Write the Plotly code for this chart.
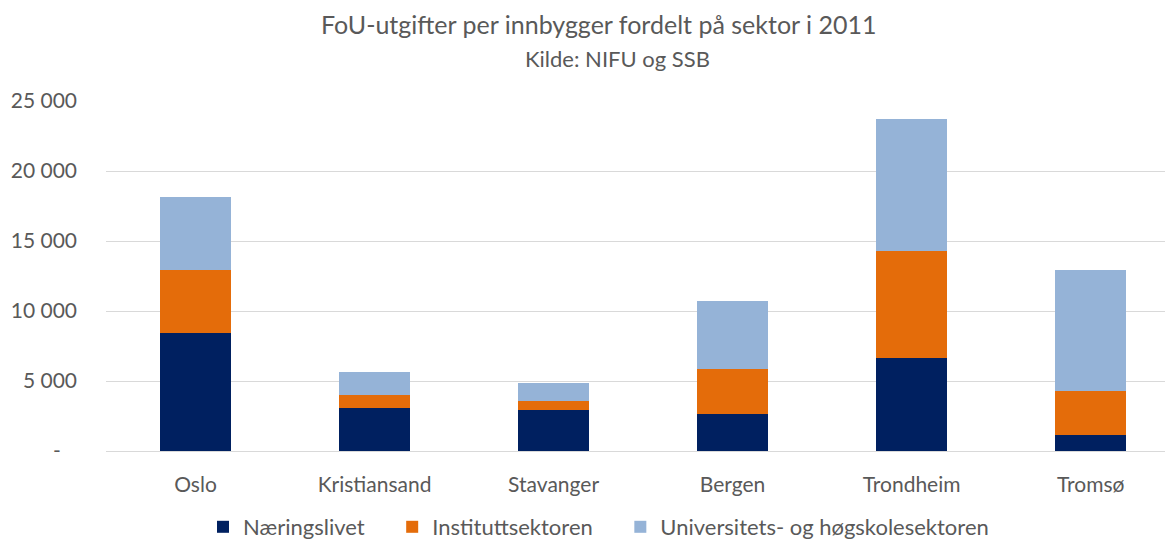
import plotly.graph_objects as go

cities = ["Oslo", "Kristiansand", "Stavanger", "Bergen", "Trondheim", "Tromsø"]
naeringslivet = [8450, 3070, 2900, 2640, 6640, 1140]
instituttsektoren = [4480, 950, 650, 3220, 7650, 3120]
universitet = [5190, 1620, 1290, 4830, 9420, 8700]

tick_vals = [0, 5000, 10000, 15000, 20000, 25000]
tick_text = ["-\u00a0\u00a0\u00a0", "5 000", "10 000", "15 000", "20 000", "25 000"]

title_line1 = "FoU-utgifter per innbygger fordelt på sektor i 2011"
title_line2 = "Kilde: NIFU og SSB"

series = [
    ("Næringslivet", naeringslivet, "#002060"),
    ("Instituttsektoren", instituttsektoren, "#E46C0A"),
    ("Universitets- og høgskolesektoren", universitet, "#95B3D7"),
]
pad = "\u00a0" * 4

fig = go.Figure()
for i, (name, vals, col) in enumerate(series):
    label = name + (pad if i < len(series) - 1 else "")
    fig.add_trace(go.Bar(x=cities, y=vals, name=label,
                         marker=dict(color=col, line=dict(width=0))))

txt = "#595959"
font_fam = "Lato, Open Sans, sans-serif"
W, H = 1165, 535
fig.update_layout(
    barmode="stack",
    bargap=0.6,
    width=W, height=H,
    margin=dict(l=98, r=0, t=93, b=92),
    paper_bgcolor="white", plot_bgcolor="white",
    font=dict(family=font_fam, color=txt, size=21),
    xaxis=dict(range=[-0.5, 5.46], showgrid=False, showline=False, ticks="",
               ticklabelstandoff=19, tickfont=dict(size=21, color=txt)),
    yaxis=dict(range=[0, 25000], tickvals=tick_vals, ticktext=tick_text,
               showgrid=True, gridcolor="#D9D9D9", gridwidth=1,
               zeroline=True, zerolinecolor="#D9D9D9", zerolinewidth=1,
               ticklabelstandoff=28, tickfont=dict(size=21, color=txt)),
    legend=dict(orientation="h", x=0.5 + 8 / W, xref="container", xanchor="center",
                yref="container", y=(H - 519) / H, yanchor="middle",
                font=dict(size=22, color=txt), traceorder="normal",
                itemwidth=30),
    showlegend=True,
)
fig.add_annotation(text=title_line1, xref="paper", yref="paper", x=(598 - 8 - 98) / (W - 98),
                   y=1 + (93 - 16) / (H - 93 - 92), xanchor="center", yanchor="middle",
                   borderpad=0,
                   showarrow=False, font=dict(size=25, color=txt, family=font_fam))
fig.add_annotation(text=title_line2, xref="paper", yref="paper", x=(617 - 8 - 98) / (W - 98),
                   y=1 + (93 - 50) / (H - 93 - 92), xanchor="center", yanchor="middle",
                   borderpad=0,
                   showarrow=False, font=dict(size=22, color=txt, family=font_fam))

fig.write_html("out.html")
